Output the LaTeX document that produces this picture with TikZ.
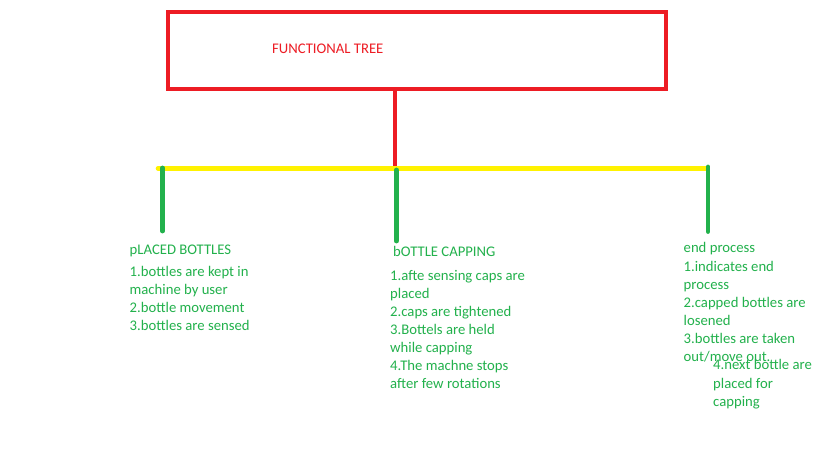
\documentclass[tikz,border=0pt]{standalone}
\usepackage{fontspec}
\setmainfont{Carlito}
\definecolor{pred}{HTML}{ED1C24}
\definecolor{pyellow}{HTML}{FFF200}
\definecolor{pgreen}{HTML}{22B14C}
\tikzset{
  redline/.style={draw=pred,line width=4.6pt},
  yelline/.style={draw=pyellow,line width=4.6pt,line cap=round},
  grnline/.style={draw=pgreen,line width=4.8pt,line cap=round},
  txt/.style={inner sep=0pt,anchor=base west,text=pgreen,font=\fontsize{14.7pt}{18pt}\selectfont,align=left},
  ttl/.style={inner sep=0pt,anchor=base west,text=pred,font=\fontsize{14.7pt}{18pt}\selectfont}
}
\begin{document}
\begin{tikzpicture}[x=1pt,y=-1pt]
\useasboundingbox (0,0) rectangle (819,460);
\fill[white] (0,0) rectangle (819,460);
% title box
\node[redline,draw,minimum width=498pt,minimum height=77pt,anchor=north west,inner sep=0pt] (box) at (165.5,9.8) {};
\node[ttl] (title) at (272,53) {FUNCTIONAL TREE};
% bar
\coordinate (bl) at (158,168.3);
\coordinate (br) at (707,168.3);
\coordinate (bm) at (395,168.3);
\draw[redline] (box.south -| bm) -- (bm);
\draw[yelline] (bl) -- (br);
% branches
\coordinate (g1t) at (162.5,168); \coordinate (g1b) at (162.5,231);
\coordinate (g2t) at (396.3,170); \coordinate (g2b) at (396.3,241);
\coordinate (g3t) at (708,167);   \coordinate (g3b) at (708,231.5);
\draw[grnline] (g1t) -- (g1b);
\draw[grnline] (g2t) -- (g2b);
\draw[grnline] (g3t) -- (g3b);
% texts (base anchor of a multi-line node = last line's baseline)
\node[txt] (h1) at (129.5,254.3) {pLACED BOTTLES};
\node[txt] (l1) at (129.5,330.7) {1.bottles are kept in\\machine by user\\2.bottle movement\\3.bottles are sensed};
\node[txt] (h2) at (393,256) {bOTTLE CAPPING};
\node[txt] (l2) at (390,388) {1.afte sensing caps are\\placed\\2.caps are tightened\\3.Bottels are held\\while capping\\4.The machne stops\\after few rotations};
\node[txt] (h3) at (683.5,252.7) {end process};
\node[txt] (l3) at (683.5,361.7) {1.indicates end\\process\\2.capped bottles are\\losened\\3.bottles are taken\\out/move out.};
\node[txt,font=\fontsize{14.7pt}{18.5pt}\selectfont] (l4) at (713,406.5) {4.next bottle are\\placed for\\capping};
\end{tikzpicture}
\end{document}
